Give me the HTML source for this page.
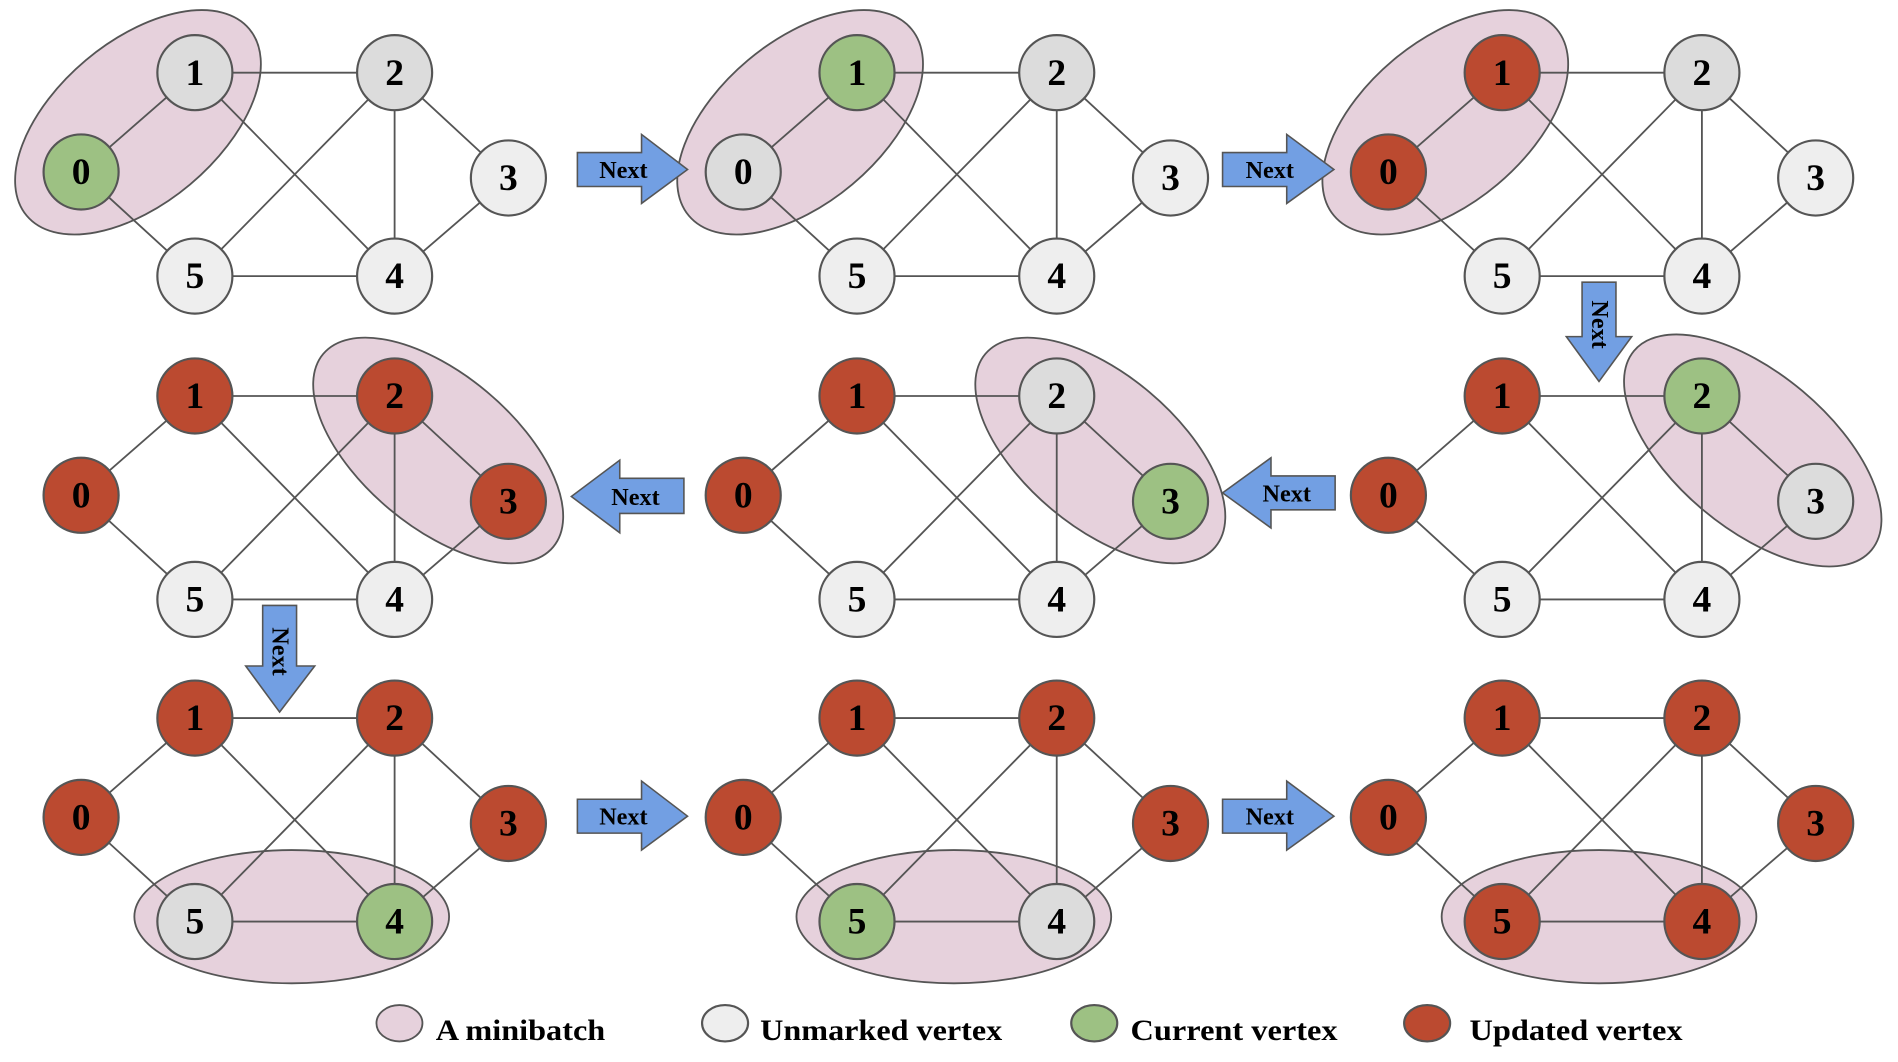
<!DOCTYPE html>
<html><head><meta charset="utf-8"><style>
html,body{margin:0;padding:0;background:#fff}
svg{display:block}
text{font-family:"Liberation Serif",serif;font-weight:bold;fill:#000}
</style></head><body>
<svg width="1898" height="1062" viewBox="0 0 1568 877" preserveAspectRatio="none" xmlns="http://www.w3.org/2000/svg">
<defs>
<style>
.e{fill:none;stroke:#555;stroke-width:1.5}
.n{stroke:#555;stroke-width:1.8}
.R{fill:#BB4A30}.G{fill:#9DC183}.L{fill:#EEEEEE}.D{fill:#DCDCDC}
.mb{fill:#E6D1DC;stroke:#555;stroke-width:1.5}
.t{font-size:31px;text-anchor:middle}
.ar{fill:#729FE3;stroke:#555;stroke-width:1.3}
.at{font-size:20px;text-anchor:middle}
.lg{font-size:24px}
</style>
</defs>

<g transform="translate(0,0)">
<ellipse class="mb" transform="translate(114,101) rotate(-40)" rx="120" ry="67"/>
<path class="e" d="M67,142L161,60M67,142L161,228M161,60L326,60M161,60L326,228M326,60L161,228M326,60L326,228M326,60L420,147M420,147L326,228M161,228L326,228"/>
<circle class="n G" cx="67" cy="142" r="31"/><text class="t" x="67" y="152">0</text>
<circle class="n D" cx="161" cy="60" r="31"/><text class="t" x="161" y="70">1</text>
<circle class="n D" cx="326" cy="60" r="31"/><text class="t" x="326" y="70">2</text>
<circle class="n L" cx="420" cy="147" r="31"/><text class="t" x="420" y="157">3</text>
<circle class="n L" cx="326" cy="228" r="31"/><text class="t" x="326" y="238">4</text>
<circle class="n L" cx="161" cy="228" r="31"/><text class="t" x="161" y="238">5</text>
</g>
<g transform="translate(547,0)">
<ellipse class="mb" transform="translate(114,101) rotate(-40)" rx="120" ry="67"/>
<path class="e" d="M67,142L161,60M67,142L161,228M161,60L326,60M161,60L326,228M326,60L161,228M326,60L326,228M326,60L420,147M420,147L326,228M161,228L326,228"/>
<circle class="n D" cx="67" cy="142" r="31"/><text class="t" x="67" y="152">0</text>
<circle class="n G" cx="161" cy="60" r="31"/><text class="t" x="161" y="70">1</text>
<circle class="n D" cx="326" cy="60" r="31"/><text class="t" x="326" y="70">2</text>
<circle class="n L" cx="420" cy="147" r="31"/><text class="t" x="420" y="157">3</text>
<circle class="n L" cx="326" cy="228" r="31"/><text class="t" x="326" y="238">4</text>
<circle class="n L" cx="161" cy="228" r="31"/><text class="t" x="161" y="238">5</text>
</g>
<g transform="translate(1080,0)">
<ellipse class="mb" transform="translate(114,101) rotate(-40)" rx="120" ry="67"/>
<path class="e" d="M67,142L161,60M67,142L161,228M161,60L326,60M161,60L326,228M326,60L161,228M326,60L326,228M326,60L420,147M420,147L326,228M161,228L326,228"/>
<circle class="n R" cx="67" cy="142" r="31"/><text class="t" x="67" y="152">0</text>
<circle class="n R" cx="161" cy="60" r="31"/><text class="t" x="161" y="70">1</text>
<circle class="n D" cx="326" cy="60" r="31"/><text class="t" x="326" y="70">2</text>
<circle class="n L" cx="420" cy="147" r="31"/><text class="t" x="420" y="157">3</text>
<circle class="n L" cx="326" cy="228" r="31"/><text class="t" x="326" y="238">4</text>
<circle class="n L" cx="161" cy="228" r="31"/><text class="t" x="161" y="238">5</text>
</g>

<g transform="translate(0,267)">
<ellipse class="mb" transform="translate(362,105) rotate(40)" rx="124" ry="63"/>
<path class="e" d="M67,142L161,60M67,142L161,228M161,60L326,60M161,60L326,228M326,60L161,228M326,60L326,228M326,60L420,147M420,147L326,228M161,228L326,228"/>
<circle class="n R" cx="67" cy="142" r="31"/><text class="t" x="67" y="152">0</text>
<circle class="n R" cx="161" cy="60" r="31"/><text class="t" x="161" y="70">1</text>
<circle class="n R" cx="326" cy="60" r="31"/><text class="t" x="326" y="70">2</text>
<circle class="n R" cx="420" cy="147" r="31"/><text class="t" x="420" y="157">3</text>
<circle class="n L" cx="326" cy="228" r="31"/><text class="t" x="326" y="238">4</text>
<circle class="n L" cx="161" cy="228" r="31"/><text class="t" x="161" y="238">5</text>
</g>
<g transform="translate(547,267)">
<ellipse class="mb" transform="translate(362,105) rotate(40)" rx="124" ry="63"/>
<path class="e" d="M67,142L161,60M67,142L161,228M161,60L326,60M161,60L326,228M326,60L161,228M326,60L326,228M326,60L420,147M420,147L326,228M161,228L326,228"/>
<circle class="n R" cx="67" cy="142" r="31"/><text class="t" x="67" y="152">0</text>
<circle class="n R" cx="161" cy="60" r="31"/><text class="t" x="161" y="70">1</text>
<circle class="n D" cx="326" cy="60" r="31"/><text class="t" x="326" y="70">2</text>
<circle class="n G" cx="420" cy="147" r="31"/><text class="t" x="420" y="157">3</text>
<circle class="n L" cx="326" cy="228" r="31"/><text class="t" x="326" y="238">4</text>
<circle class="n L" cx="161" cy="228" r="31"/><text class="t" x="161" y="238">5</text>
</g>
<g transform="translate(1080,267)">
<ellipse class="mb" transform="translate(368,105) rotate(40)" rx="128" ry="64"/>
<path class="e" d="M67,142L161,60M67,142L161,228M161,60L326,60M161,60L326,228M326,60L161,228M326,60L326,228M326,60L420,147M420,147L326,228M161,228L326,228"/>
<circle class="n R" cx="67" cy="142" r="31"/><text class="t" x="67" y="152">0</text>
<circle class="n R" cx="161" cy="60" r="31"/><text class="t" x="161" y="70">1</text>
<circle class="n G" cx="326" cy="60" r="31"/><text class="t" x="326" y="70">2</text>
<circle class="n D" cx="420" cy="147" r="31"/><text class="t" x="420" y="157">3</text>
<circle class="n L" cx="326" cy="228" r="31"/><text class="t" x="326" y="238">4</text>
<circle class="n L" cx="161" cy="228" r="31"/><text class="t" x="161" y="238">5</text>
</g>

<g transform="translate(0,533)">
<ellipse class="mb" cx="241" cy="224" rx="130" ry="55"/>
<path class="e" d="M67,142L161,60M67,142L161,228M161,60L326,60M161,60L326,228M326,60L161,228M326,60L326,228M326,60L420,147M420,147L326,228M161,228L326,228"/>
<circle class="n R" cx="67" cy="142" r="31"/><text class="t" x="67" y="152">0</text>
<circle class="n R" cx="161" cy="60" r="31"/><text class="t" x="161" y="70">1</text>
<circle class="n R" cx="326" cy="60" r="31"/><text class="t" x="326" y="70">2</text>
<circle class="n R" cx="420" cy="147" r="31"/><text class="t" x="420" y="157">3</text>
<circle class="n G" cx="326" cy="228" r="31"/><text class="t" x="326" y="238">4</text>
<circle class="n D" cx="161" cy="228" r="31"/><text class="t" x="161" y="238">5</text>
</g>
<g transform="translate(547,533)">
<ellipse class="mb" cx="241" cy="224" rx="130" ry="55"/>
<path class="e" d="M67,142L161,60M67,142L161,228M161,60L326,60M161,60L326,228M326,60L161,228M326,60L326,228M326,60L420,147M420,147L326,228M161,228L326,228"/>
<circle class="n R" cx="67" cy="142" r="31"/><text class="t" x="67" y="152">0</text>
<circle class="n R" cx="161" cy="60" r="31"/><text class="t" x="161" y="70">1</text>
<circle class="n R" cx="326" cy="60" r="31"/><text class="t" x="326" y="70">2</text>
<circle class="n R" cx="420" cy="147" r="31"/><text class="t" x="420" y="157">3</text>
<circle class="n D" cx="326" cy="228" r="31"/><text class="t" x="326" y="238">4</text>
<circle class="n G" cx="161" cy="228" r="31"/><text class="t" x="161" y="238">5</text>
</g>
<g transform="translate(1080,533)">
<ellipse class="mb" cx="241" cy="224" rx="130" ry="55"/>
<path class="e" d="M67,142L161,60M67,142L161,228M161,60L326,60M161,60L326,228M326,60L161,228M326,60L326,228M326,60L420,147M420,147L326,228M161,228L326,228"/>
<circle class="n R" cx="67" cy="142" r="31"/><text class="t" x="67" y="152">0</text>
<circle class="n R" cx="161" cy="60" r="31"/><text class="t" x="161" y="70">1</text>
<circle class="n R" cx="326" cy="60" r="31"/><text class="t" x="326" y="70">2</text>
<circle class="n R" cx="420" cy="147" r="31"/><text class="t" x="420" y="157">3</text>
<circle class="n R" cx="326" cy="228" r="31"/><text class="t" x="326" y="238">4</text>
<circle class="n R" cx="161" cy="228" r="31"/><text class="t" x="161" y="238">5</text>
</g>

<g>
<polygon class="ar" points="477,126 530,126 530,111 568,140 530,168 530,154 477,154"/>
<text class="at" x="515" y="147">Next</text>
<polygon class="ar" points="1010,126 1063,126 1063,111 1102,140 1063,168 1063,154 1010,154"/>
<text class="at" x="1049" y="147">Next</text>
<polygon class="ar" points="477,660 530,660 530,645 568,674 530,702 530,688 477,688"/>
<text class="at" x="515" y="681">Next</text>
<polygon class="ar" points="1010,660 1063,660 1063,645 1102,674 1063,702 1063,688 1010,688"/>
<text class="at" x="1049" y="681">Next</text>
</g>
<g>
<polygon class="ar" points="565,395 512,395 512,380 472,410 512,440 512,424 565,424"/>
<text class="at" x="525" y="417">Next</text>
<polygon class="ar" points="1103,393 1050,393 1050,378 1010,407 1050,436 1050,421 1103,421"/>
<text class="at" x="1063" y="414">Next</text>
</g>
<g>
<polygon class="ar" points="1307,233 1335,233 1335,278 1348,278 1321,315 1294,278 1307,278"/>
<text class="at" transform="translate(1315,268) rotate(90)" x="0" y="0">Next</text>
<polygon class="ar" points="217,500 245,500 245,550 260,550 231,588 203,550 217,550"/>
<text class="at" transform="translate(225,538) rotate(90)" x="0" y="0">Next</text>
</g>

<g>
<ellipse class="mb" cx="330" cy="845" rx="19" ry="15"/>
<text class="lg" x="360" y="859" textLength="140" lengthAdjust="spacingAndGlyphs">A minibatch</text>
<ellipse class="n L" cx="599" cy="845" rx="19" ry="15"/>
<text class="lg" x="628" y="859" textLength="200" lengthAdjust="spacingAndGlyphs">Unmarked vertex</text>
<ellipse class="n G" cx="904" cy="845" rx="19" ry="15"/>
<text class="lg" x="934" y="859" textLength="171" lengthAdjust="spacingAndGlyphs">Current vertex</text>
<ellipse class="n R" cx="1179" cy="845" rx="19" ry="15"/>
<text class="lg" x="1214" y="859" textLength="176" lengthAdjust="spacingAndGlyphs">Updated vertex</text>
</g>
</svg>
</body></html>
